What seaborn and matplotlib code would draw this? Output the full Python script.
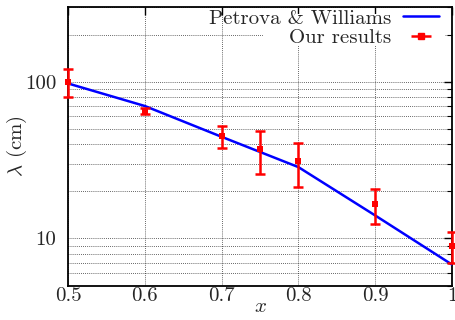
import numpy as np
import seaborn as sns
import matplotlib
matplotlib.use("Agg")
import matplotlib.pyplot as plt
from matplotlib.patches import Rectangle
from matplotlib.ticker import FixedLocator, FixedFormatter, NullFormatter, LogLocator

# Theoretical curve (Petrova & Williams)
theory_x = [0.5, 0.6, 0.7, 0.8, 0.9, 1.0]
theory_lambda = [97.5, 70.0, 44.5, 28.5, 14.0, 6.8]

# Measured values with symmetric uncertainties
meas_x = [0.5, 0.6, 0.7, 0.75, 0.8, 0.9, 1.0]
meas_lambda = [100.0, 65.0, 45.0, 37.0, 31.0, 16.5, 9.0]
meas_err = [20.0, 2.5, 7.5, 11.2, 9.6, 4.2, 2.0]

x_ticks = [0.5, 0.6, 0.7, 0.8, 0.9, 1.0]
x_tick_labels = ["0.5", "0.6", "0.7", "0.8", "0.9", "1"]
y_ticks = [10, 100]
y_tick_labels = ["10", "100"]

sns.set_style("white")
plt.rcParams["font.family"] = ["cmr10", "DejaVu Serif"]
plt.rcParams["mathtext.fontset"] = "cm"
plt.rcParams["axes.unicode_minus"] = False
plt.rcParams["axes.formatter.use_mathtext"] = True

FS = 15
W, H = 455, 320

fig = plt.figure(figsize=(W / 100, H / 100), dpi=100)
ax = fig.add_axes([68 / W, 1 - 285.5 / H, (452 - 68) / W, (285.5 - 7) / H])

sns.lineplot(x=theory_x, y=theory_lambda, ax=ax, color="#0000ff",
             linewidth=1.8, legend=False, zorder=3)

ax.errorbar(meas_x, meas_lambda, yerr=meas_err, fmt="none", ecolor="#ff0000",
            elinewidth=1.8, capsize=3.3, capthick=1.8, clip_on=False, zorder=4)
sns.scatterplot(x=meas_x, y=meas_lambda, ax=ax, marker="s", s=22,
                color="#ff0000", edgecolor="#ff0000", linewidth=0,
                clip_on=False, zorder=5, legend=False)

ax.set_yscale("log")
ax.set_xlim(0.5, 1.0)
ax.set_ylim(5, 300)

ax.xaxis.set_major_locator(FixedLocator(x_ticks))
ax.xaxis.set_major_formatter(FixedFormatter(x_tick_labels))
ax.yaxis.set_major_locator(FixedLocator(y_ticks))
ax.yaxis.set_major_formatter(FixedFormatter(y_tick_labels))
ax.yaxis.set_minor_locator(LogLocator(base=10, subs=np.arange(2, 10)))
ax.yaxis.set_minor_formatter(NullFormatter())

ax.tick_params(axis="both", which="both", direction="in", top=True, right=True,
               labelsize=FS, color="black")
ax.tick_params(axis="x", which="major", pad=1)
ax.tick_params(axis="y", which="major", pad=8.5)
ax.tick_params(axis="both", which="major", length=6, width=1.0)
ax.tick_params(axis="y", which="minor", length=3.5, width=0.8)

grid_style = dict(color="black", linestyle=(0, (1, 1.5)), linewidth=0.6, alpha=0.8)
ax.grid(True, which="major", axis="both", **grid_style)
ax.grid(True, which="minor", axis="y", **grid_style)
ax.set_axisbelow(True)

for side in ax.spines.values():
    side.set_color("black")
    side.set_linewidth(1.3)

ax.set_xlabel(r"$x$", fontsize=FS, labelpad=-5)
ax.set_ylabel(r"$\lambda$ (cm)", fontsize=FS, labelpad=-3)

# Opaque key area that hides the grid behind the legend
ax.add_patch(Rectangle((263 / W, 1 - 46 / H), (445 - 263) / W, (46 - 14) / H,
                       transform=fig.transFigure, facecolor="white",
                       edgecolor="none", zorder=2))

# Legend: horizontal error bar symbol for the measurements
err_handle = ax.errorbar([], [], xerr=[], fmt="s", color="#ff0000", ms=4.5,
                         elinewidth=1.8, capsize=3.3, capthick=1.8)
line_handle = ax.lines[0]
leg = ax.legend([line_handle, err_handle], ["Petrova & Williams", "Our results"],
                loc="upper right", bbox_to_anchor=(0.972, 1.0),
                fontsize=FS, markerfirst=False, frameon=False,
                handlelength=1.75, handletextpad=0.55, labelspacing=0.05,
                borderpad=0.1, borderaxespad=0.0)

fig.savefig("out.png", dpi=100)
